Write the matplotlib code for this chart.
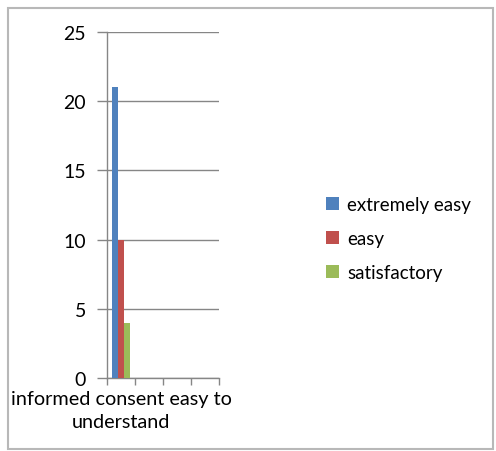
import numpy as np
import matplotlib
matplotlib.use("Agg")
from matplotlib import pyplot as plt
from matplotlib.patches import Rectangle

categories = ["informed consent easy to\nunderstand", "", "", ""]
series = ["extremely easy", "easy", "satisfactory"]
extremely_easy = [21, 0, 0, 0]
easy = [10, 0, 0, 0]
satisfactory = [4, 0, 0, 0]
colors = ["#4F81BD", "#C0504D", "#9BBB59"]
yticks = [0, 5, 10, 15, 20, 25]

plt.rcParams['font.family'] = ['Lato', 'DejaVu Sans']

fig = plt.figure(figsize=(4.96, 4.52), dpi=100)

# chart border
fig.patches.append(Rectangle((8/496, 1 - 450/452), 485/496, 441/452,
                             transform=fig.transFigure, fill=False,
                             edgecolor="#B8B8B8", linewidth=1.5))

ax = fig.add_axes([107/496, 1 - 379/452, 112/496, 346/452])

x = np.arange(len(categories))
w = 0.667 / 3
for i, (vals, name) in enumerate(zip([extremely_easy, easy, satisfactory], series)):
    ax.bar(x + (i - 1) * w, vals, width=w, color=colors[i], label=name, zorder=3)

ax.set_xlim(-0.5, len(categories) - 0.5)
ax.set_ylim(0, 25)
ax.set_yticks(yticks)
ax.yaxis.grid(True, color="#868686", linewidth=1)
ax.set_axisbelow(True)

# boundary ticks at category edges, labels at centers
ax.set_xticks(np.arange(len(categories) + 1) - 0.5)
ax.set_xticklabels([])
ax.set_xticks(x, minor=True)
ax.set_xticklabels(categories, minor=True, fontsize=14.3, linespacing=1.4)
ax.tick_params(axis="x", which="minor", length=0, pad=9)
ax.tick_params(axis="x", which="major", length=5, color="#868686", width=1)
ax.tick_params(axis="y", length=7, color="#868686", width=1, labelsize=14, pad=8)

for s in ["top", "right"]:
    ax.spines[s].set_visible(False)
for s in ["left", "bottom"]:
    ax.spines[s].set_color("#868686")
    ax.spines[s].set_linewidth(1)

fig.legend(loc="upper left", bbox_to_anchor=(309/496, 1 - 180/452),
           frameon=False, fontsize=13.5, handlelength=0.7, handleheight=0.7,
           labelspacing=0.92, handletextpad=0.45)

fig.savefig("out.png", dpi=100)
